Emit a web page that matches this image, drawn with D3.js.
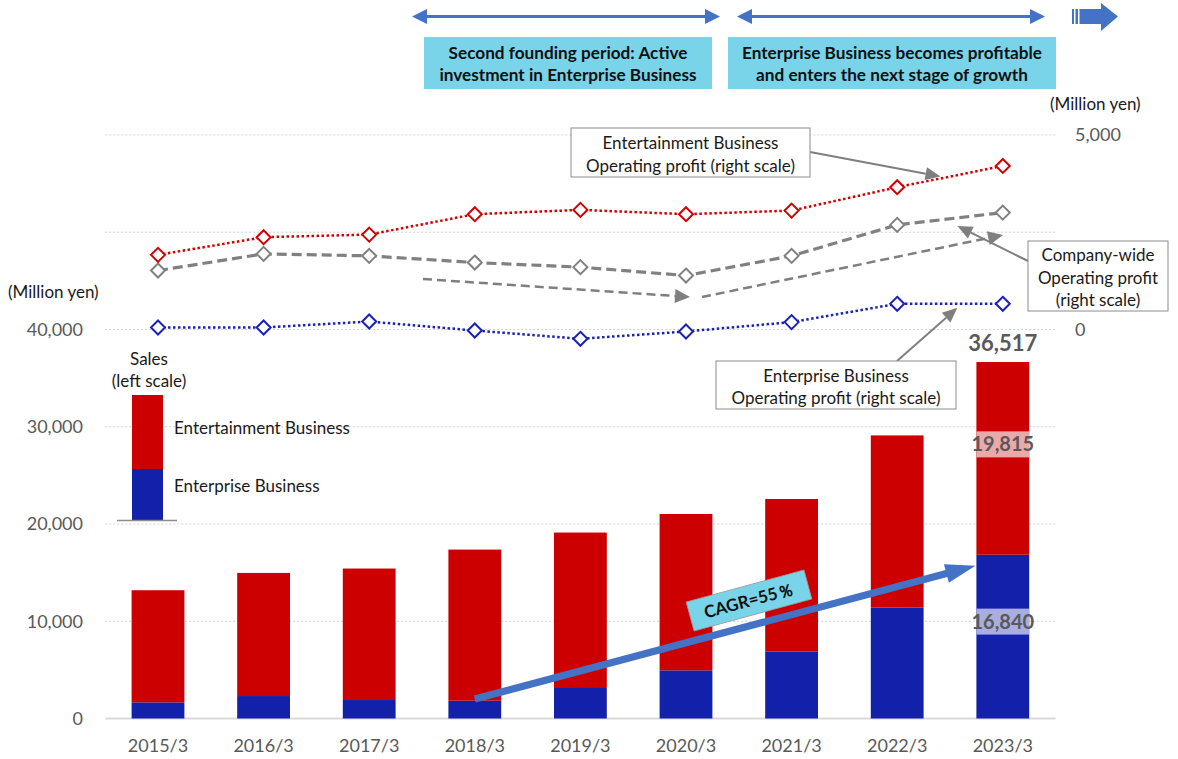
<!DOCTYPE html>
<html>
<head>
<meta charset="utf-8">
<script src="https://cdn.jsdelivr.net/npm/d3@7"></script>
<style>
  html, body { margin: 0; padding: 0; background: #fff; }
  svg { display: block; font-family: Lato, "Open Sans", sans-serif; }
</style>
</head>
<body>
<svg id="chart" width="1178" height="759"></svg>
<script>
// Fiscal years (March year-end)
const years = ["2015/3", "2016/3", "2017/3", "2018/3", "2019/3", "2020/3", "2021/3", "2022/3", "2023/3"];

// Sales, million yen (left scale)
const enterpriseSales    = [1660, 2310, 1900, 1830, 3230, 4950, 6900, 11420, 16840];
const entertainmentSales = [11530, 12660, 13520, 15540, 15890, 16080, 15670, 17690, 19815];
const totalSalesLabel = 36517;

// Operating profit, million yen (right scale)
const entertainmentOP = [1919, 2373, 2440, 2964, 3075, 2964, 3057, 3658, 4205];
const companyOP       = [1516, 1944, 1893, 1721, 1603, 1387, 1893, 2689, 3005];
const enterpriseOP    = [51, 51, 205, -26, -239, -51, 190, 660, 660];

// Axis ticks
const leftTicks  = [0, 10000, 20000, 30000, 40000];
const rightTicks = [0, 5000];
const gridValues = [10000, 20000, 30000, 40000, 50000, 60000];

// CAGR arrow anchor values (left scale)
const cagrFrom = { year: "2018/3", value: 2000 };
const cagrTo   = { year: "2023/3", value: 15700 };
const cagrText = "CAGR=55％";

const C = {
  red: "#cc0000", blue: "#1220aa",
  redLine: "#d40000", blueLine: "#1a22b4", grayLine: "#808080",
  axisText: "#595959", grid: "#d0d0d0", cyan: "#7ad4e9", arrowBlue: "#4472c4",
  note: "#7f7f7f", text: "#1a1a1a"
};
const FS = 17; // annotation text size

const svg = d3.select("#chart");
const plotL = 105.2, plotR = 1055.6, plotTop = 135, plotBase = 718.5;

const x = d3.scaleBand().domain(years).range([plotL, plotR]).paddingInner(0.5).paddingOuter(0.25);
const yL = d3.scaleLinear().domain([0, 60000]).range([plotBase, plotTop]);
const yR = d3.scaleLinear().domain([-10000, 5000]).range([plotBase, plotTop]);
const bw = x.bandwidth();
const cx = d => x(d) + bw / 2;

// gridlines
svg.append("g").selectAll("line").data(gridValues).join("line")
  .attr("x1", plotL).attr("x2", plotR)
  .attr("y1", d => yL(d)).attr("y2", d => yL(d))
  .attr("stroke", C.grid).attr("stroke-width", 1).attr("stroke-dasharray", "2,2");
svg.append("line").attr("x1", plotL).attr("x2", plotR)
  .attr("y1", yL(0)).attr("y2", yL(0))
  .attr("stroke", "#d9d9d9").attr("stroke-width", 2);

// axes
function styleAxis(g, size) {
  g.select(".domain").remove();
  g.selectAll("text").attr("fill", C.axisText).style("font-size", size + "px").style("font-family", "Lato, sans-serif");
}
svg.append("g").attr("transform", "translate(87,0)")
  .call(d3.axisLeft(yL).tickValues(leftTicks).tickSize(0).tickPadding(4).tickFormat(d3.format(",")))
  .call(g => styleAxis(g, 18));
svg.append("g").attr("transform", "translate(1071,0)")
  .call(d3.axisRight(yR).tickValues(rightTicks).tickSize(0).tickPadding(4).tickFormat(d3.format(",")))
  .call(g => styleAxis(g, 18));
svg.append("g").attr("transform", `translate(0,${plotBase})`)
  .call(d3.axisBottom(x).tickSize(0).tickPadding(21))
  .call(g => styleAxis(g, 18));

// unit labels
svg.append("text").attr("x", 8).attr("y", 292).attr("dy", "0.35em")
  .attr("fill", C.text).style("font-size", FS + "px").text("(Million yen)");
svg.append("text").attr("x", 1050).attr("y", 104).attr("dy", "0.35em")
  .attr("fill", C.text).style("font-size", FS + "px").text("(Million yen)");

// stacked bars
const bars = svg.append("g");
bars.selectAll("rect.ent").data(years).join("rect").attr("class", "ent")
  .attr("x", d => x(d)).attr("width", bw)
  .attr("y", (d, i) => yL(enterpriseSales[i]))
  .attr("height", (d, i) => yL(0) - yL(enterpriseSales[i]))
  .attr("fill", C.blue);
bars.selectAll("rect.enm").data(years).join("rect").attr("class", "enm")
  .attr("x", d => x(d)).attr("width", bw)
  .attr("y", (d, i) => yL(enterpriseSales[i] + entertainmentSales[i]))
  .attr("height", (d, i) => yL(enterpriseSales[i]) - yL(enterpriseSales[i] + entertainmentSales[i]))
  .attr("fill", C.red);

// value labels on the latest bar
const last = years.length - 1, ly = years[last];
function segLabel(yMid, bg, text) {
  svg.append("rect").attr("x", x(ly)).attr("width", bw).attr("y", yMid - 13).attr("height", 26).attr("fill", bg);
  svg.append("text").attr("x", cx(ly)).attr("y", yMid).attr("dy", "0.35em").attr("text-anchor", "middle")
    .attr("fill", C.axisText).style("font-size", "20px").style("font-weight", "bold").text(text);
}
segLabel(yL(enterpriseSales[last] + entertainmentSales[last] / 2) - 14, "#ebaaaa", d3.format(",")(entertainmentSales[last]));
segLabel(yL(enterpriseSales[last] / 2) - 15, "#a9aedf", d3.format(",")(enterpriseSales[last]));
svg.append("text").attr("x", cx(ly)).attr("y", yL(enterpriseSales[last] + entertainmentSales[last]) - 19)
  .attr("dy", "0.35em").attr("text-anchor", "middle")
  .attr("fill", C.axisText).style("font-size", "22px").style("font-weight", "bold")
  .text(d3.format(",")(totalSalesLabel));

// operating profit lines
const line = d3.line().x((d, i) => cx(years[i])).y(d => yR(d));
const series = [
  { v: companyOP, c: C.grayLine, w: 3.2, dash: "10,5" },
  { v: entertainmentOP, c: C.redLine, w: 2.5, dash: "2.5,2.5" },
  { v: enterpriseOP, c: C.blueLine, w: 2.5, dash: "2.5,2.5" }
];
series.forEach(s => {
  svg.append("path").datum(s.v).attr("d", line).attr("fill", "none")
    .attr("stroke", s.c).attr("stroke-width", s.w).attr("stroke-dasharray", s.dash);
  svg.append("g").selectAll("path").data(s.v).join("path")
    .attr("transform", (d, i) => `translate(${cx(years[i])},${yR(d)})`)
    .attr("d", "M0,-7L7,0L0,7L-7,0Z")
    .attr("fill", "#fff").attr("stroke", s.c).attr("stroke-width", 2);
});

// helpers for annotation arrows
function head(x1, y1, x2, y2, len, hw) {
  const a = Math.atan2(y2 - y1, x2 - x1);
  const bx = x2 - len * Math.cos(a), by = y2 - len * Math.sin(a);
  const px = -Math.sin(a) * hw, py = Math.cos(a) * hw;
  return { base: [bx, by], pts: [[x2, y2], [bx + px, by + py], [bx - px, by - py]] };
}
function arrow(g, x1, y1, x2, y2, opt) {
  const h = head(x1, y1, x2, y2, opt.len, opt.hw);
  g.append("line").attr("x1", x1).attr("y1", y1).attr("x2", h.base[0]).attr("y2", h.base[1])
    .attr("stroke", opt.color).attr("stroke-width", opt.w).attr("stroke-dasharray", opt.dash || null);
  g.append("polygon").attr("points", h.pts.map(p => p.join(",")).join(" ")).attr("fill", opt.color);
}
// point along a profit line between year i and i+1
function along(vals, i, t, dx, dy) {
  const x0 = cx(years[i]), x1 = cx(years[i + 1]);
  return [x0 + (x1 - x0) * t + dx, yR(vals[i]) + (yR(vals[i + 1]) - yR(vals[i])) * t + dy];
}

const notes = svg.append("g");

// trend arrows (dashed) for company-wide profit
arrow(notes, 423, 279, 690, 297, { len: 15, hw: 7, w: 2.5, color: C.note, dash: "9,5" });
arrow(notes, 702, 297, 1003, 235, { len: 15, hw: 7, w: 2.5, color: C.note, dash: "9,5" });

// callout boxes
function callout(x0, y0, w, h, lines, ys) {
  notes.append("rect").attr("x", x0).attr("y", y0).attr("width", w).attr("height", h)
    .attr("fill", "#fff").attr("stroke", "#8c8c8c").attr("stroke-width", 1);
  lines.forEach((t, i) => notes.append("text").attr("x", x0 + w / 2).attr("y", ys[i]).attr("dy", "0.35em")
    .attr("text-anchor", "middle").attr("fill", C.text).style("font-size", FS + "px").text(t));
}
const pEnt = along(entertainmentOP, 7, 0.41, 0, -2);
arrow(notes, 810, 152, pEnt[0], pEnt[1], { len: 15, hw: 6.5, w: 2, color: C.note });
callout(571, 128, 239, 49, ["Entertainment Business", "Operating profit (right scale)"], [143, 166]);

const pCo = along(companyOP, 7, 0.57, 0, 8);
arrow(notes, 1028, 261, pCo[0], pCo[1], { len: 15, hw: 6.5, w: 2, color: C.note });
callout(1028, 241, 140, 70, ["Company-wide", "Operating profit", "(right scale)"], [255, 278, 300]);

const pEp = along(enterpriseOP, 7, 0.57, 0, 4);
arrow(notes, 897, 361, pEp[0], pEp[1], { len: 15, hw: 6.5, w: 2, color: C.note });
callout(716, 361, 240, 48, ["Enterprise Business", "Operating profit (right scale)"], [376, 398]);

// legend
const lg = svg.append("g");
lg.append("text").attr("x", 149).attr("y", 359).attr("dy", "0.35em").attr("text-anchor", "middle")
  .attr("fill", C.text).style("font-size", FS + "px").text("Sales");
lg.append("text").attr("x", 149).attr("y", 381).attr("dy", "0.35em").attr("text-anchor", "middle")
  .attr("fill", C.text).style("font-size", FS + "px").text("(left scale)");
lg.append("rect").attr("x", 132).attr("y", 395).attr("width", 31).attr("height", 74).attr("fill", C.red);
lg.append("rect").attr("x", 132).attr("y", 469).attr("width", 31).attr("height", 51).attr("fill", C.blue);
lg.append("line").attr("x1", 117).attr("x2", 177).attr("y1", 520.5).attr("y2", 520.5)
  .attr("stroke", "#8c8c8c").attr("stroke-width", 1.5);
lg.append("text").attr("x", 174).attr("y", 428).attr("dy", "0.35em")
  .attr("fill", C.text).style("font-size", FS + "px").text("Entertainment Business");
lg.append("text").attr("x", 174).attr("y", 486).attr("dy", "0.35em")
  .attr("fill", C.text).style("font-size", FS + "px").text("Enterprise Business");

// CAGR arrow across the enterprise sales bars
(function () {
  const x1 = cx(cagrFrom.year), y1 = yL(cagrFrom.value);
  const x2 = x(cagrTo.year) - 1, y2 = yL(cagrTo.value);
  const a = Math.atan2(y2 - y1, x2 - x1);
  const len = Math.hypot(x2 - x1, y2 - y1);
  const g = svg.append("g").attr("transform", `translate(${x1},${y1}) rotate(${a * 180 / Math.PI})`);
  g.append("path").attr("fill", C.arrowBlue)
    .attr("d", `M0,-3.6L${len - 30},-3.6L${len - 30},-9.5L${len},0L${len - 30},9.5L${len - 30},3.6L0,3.6Z`);
  const lab = svg.append("g").attr("transform", `translate(749,600.5) rotate(-15.2)`);
  lab.append("rect").attr("x", -61).attr("y", -15).attr("width", 122).attr("height", 30)
    .attr("fill", C.cyan).attr("stroke", "#9a9a9a").attr("stroke-width", 0.8);
  lab.append("text").attr("y", 0).attr("dy", "0.35em").attr("text-anchor", "middle")
    .attr("fill", "#111").style("font-size", "17px").style("font-weight", "bold").text(cagrText);
})();

// period banners
const banners = svg.append("g");
function doubleArrow(x1, x2, y) {
  banners.append("line").attr("x1", x1 + 12).attr("x2", x2 - 12).attr("y1", y).attr("y2", y)
    .attr("stroke", C.arrowBlue).attr("stroke-width", 3);
  banners.append("polygon").attr("fill", C.arrowBlue)
    .attr("points", `${x1},${y} ${x1 + 15},${y - 7.5} ${x1 + 15},${y + 7.5}`);
  banners.append("polygon").attr("fill", C.arrowBlue)
    .attr("points", `${x2},${y} ${x2 - 15},${y - 7.5} ${x2 - 15},${y + 7.5}`);
}
doubleArrow(412, 720, 16.5);
doubleArrow(737, 1045, 16.5);
// striped block arrow
banners.append("rect").attr("x", 1072).attr("y", 9).attr("width", 2).attr("height", 15).attr("fill", C.arrowBlue);
banners.append("rect").attr("x", 1075.5).attr("y", 9).attr("width", 2.5).attr("height", 15).attr("fill", C.arrowBlue);
banners.append("path").attr("fill", C.arrowBlue)
  .attr("d", "M1079.5,9L1101,9L1101,3L1118,16.5L1101,31L1101,24L1079.5,24Z");

function banner(x0, w, lines) {
  banners.append("rect").attr("x", x0).attr("y", 37).attr("width", w).attr("height", 52).attr("fill", C.cyan);
  lines.forEach((t, i) => banners.append("text").attr("x", x0 + w / 2).attr("y", 52.5 + i * 22.5).attr("dy", "0.35em")
    .attr("text-anchor", "middle").attr("fill", "#111").style("font-size", "17.2px").style("font-weight", "bold").text(t));
}
banner(424, 288, ["Second founding period: Active", "investment in Enterprise Business"]);
banner(728, 328, ["Enterprise Business becomes profitable", "and enters the next stage of growth"]);
</script>
</body>
</html>
